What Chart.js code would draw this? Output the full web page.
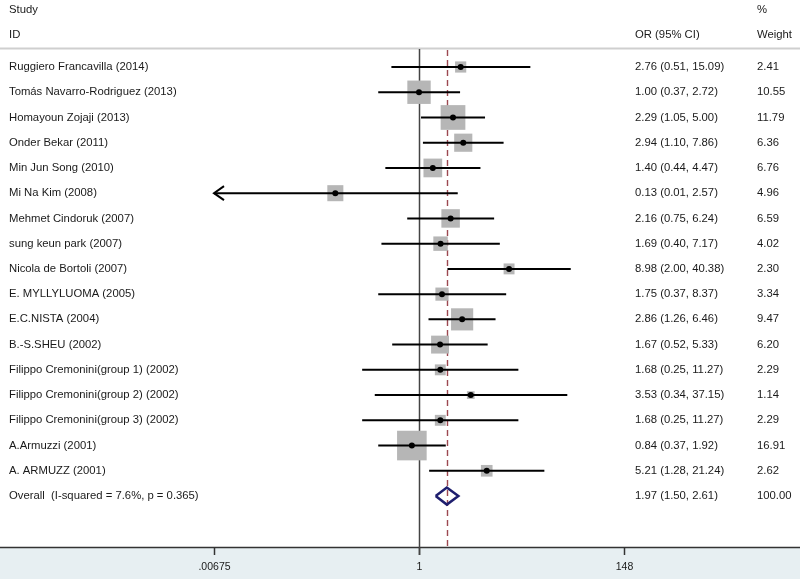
<!DOCTYPE html>
<html>
<head>
<meta charset="utf-8">
<script src="https://cdn.jsdelivr.net/npm/chart.js@4.4.1/dist/chart.umd.min.js"></script>
<style>
  html, body { margin: 0; padding: 0; background: #fff; }
  canvas { display: block; }
</style>
</head>
<body>
<canvas id="forest" width="800" height="579"></canvas>
<script>
// study data
const studies = [
    'Ruggiero Francavilla (2014)',
    'Tomás Navarro-Rodriguez (2013)',
    'Homayoun Zojaji (2013)',
    'Onder Bekar (2011)',
    'Min Jun Song (2010)',
    'Mi Na Kim (2008)',
    'Mehmet Cindoruk (2007)',
    'sung keun park (2007)',
    'Nicola de Bortoli (2007)',
    'E. MYLLYLUOMA (2005)',
    'E.C.NISTA (2004)',
    'B.-S.SHEU (2002)',
    'Filippo Cremonini(group 1) (2002)',
    'Filippo Cremonini(group 2) (2002)',
    'Filippo Cremonini(group 3) (2002)',
    'A.Armuzzi (2001)',
    'A. ARMUZZ (2001)'
];
const oddsRatio = [2.76, 1.00, 2.29, 2.94, 1.40, 0.13, 2.16, 1.69, 8.98, 1.75, 2.86, 1.67, 1.68, 3.53, 1.68, 0.84, 5.21];
const ciLow     = [0.51, 0.37, 1.05, 1.10, 0.44, 0.01, 0.75, 0.40, 2.00, 0.37, 1.26, 0.52, 0.25, 0.34, 0.25, 0.37, 1.28];
const ciHigh    = [15.09, 2.72, 5.00, 7.86, 4.47, 2.57, 6.24, 7.17, 40.38, 8.37, 6.46, 5.33, 11.27, 37.15, 11.27, 1.92, 21.24];
const weights   = [2.41, 10.55, 11.79, 6.36, 6.76, 4.96, 6.59, 4.02, 2.30, 3.34, 9.47, 6.20, 2.29, 1.14, 2.29, 16.91, 2.62];
// rows whose CI runs off the left end of the axis (drawn with an arrow)
const arrowLeft = [5];

const overallLabel = 'Overall  (I-squared = 7.6%, p = 0.365)';
const overallOR = 1.97;
const overallLow = 1.50;
const overallHigh = 2.61;
const overallWeight = 100.00;

const xTicks = [0.00675, 1, 148];
const xTickLabels = ['.00675', '1', '148'];

const FONT = '"Liberation Sans", Arial, sans-serif';
const xMin = xTicks[0];
const xMax = xTicks[xTicks.length - 1];
const overallRow = studies.length;

// CI segments in one dataset, broken by nulls
const ciData = [];
studies.forEach((s, i) => {
    const left = arrowLeft.includes(i) ? xMin : ciLow[i];
    ciData.push({ x: left, y: i }, { x: ciHigh[i], y: i }, { x: null, y: null });
});

const boxData = oddsRatio.map((v, i) => ({ x: v, y: i }));
// square side ~ sqrt(weight), rect pointStyle side = 2 * r * SQRT1_2
const boxRadius = weights.map(w => 7.2 * Math.sqrt(w) / (2 * Math.SQRT1_2));

const dh = 0.34;
const diamondData = [
    { x: overallLow, y: overallRow },
    { x: overallOR, y: overallRow - dh },
    { x: overallHigh, y: overallRow },
    { x: overallOR, y: overallRow + dh },
    { x: overallLow, y: overallRow }
];

const forestDecor = {
    id: 'forestDecor',
    beforeDraw(chart) {
        const ctx = chart.ctx;
        const W = chart.width, H = chart.height;
        ctx.save();
        // bottom band
        ctx.fillStyle = '#e7eff2';
        ctx.fillRect(0, 548, W, H - 548);
        // header separator
        ctx.strokeStyle = '#cfcfcf';
        ctx.lineWidth = 2;
        ctx.beginPath();
        ctx.moveTo(0, 48.5);
        ctx.lineTo(W, 48.5);
        ctx.stroke();

        // text
        ctx.fillStyle = '#1a1a1a';
        ctx.font = '11.3px ' + FONT;
        ctx.textBaseline = 'middle';
        ctx.textAlign = 'left';
        ctx.fillText('Study', 9, 10);
        ctx.fillText('ID', 9, 35);
        ctx.fillText('OR (95% CI)', 635, 35);
        ctx.fillText('%', 757, 10);
        ctx.fillText('Weight', 757, 35);

        const ys = chart.scales.y;
        studies.forEach((s, i) => {
            const y = ys.getPixelForValue(i);
            ctx.fillText(s, 9, y);
            ctx.fillText(oddsRatio[i].toFixed(2) + ' (' + ciLow[i].toFixed(2) + ', ' + ciHigh[i].toFixed(2) + ')', 635, y);
            ctx.fillText(weights[i].toFixed(2), 757, y);
        });
        const yo = ys.getPixelForValue(overallRow);
        ctx.fillText(overallLabel, 9, yo);
        ctx.fillText(overallOR.toFixed(2) + ' (' + overallLow.toFixed(2) + ', ' + overallHigh.toFixed(2) + ')', 635, yo);
        ctx.fillText(overallWeight.toFixed(2), 757, yo);

        // x axis
        const xs = chart.scales.x;
        ctx.strokeStyle = '#333';
        ctx.lineWidth = 1.5;
        ctx.beginPath();
        ctx.moveTo(0, 547.5);
        ctx.lineTo(W, 547.5);
        ctx.stroke();
        ctx.font = '10.5px ' + FONT;
        ctx.textAlign = 'center';
        xTicks.forEach((t, i) => {
            const x = Math.round(xs.getPixelForValue(t)) + 0.5;
            ctx.beginPath();
            ctx.moveTo(x, 547);
            ctx.lineTo(x, 555);
            ctx.stroke();
            ctx.fillText(xTickLabels[i], x, 567);
        });
        ctx.restore();
    },
    beforeDatasetsDraw(chart) {
        const ctx = chart.ctx;
        const xs = chart.scales.x;
        ctx.save();
        // null line at 1
        const x1 = Math.round(xs.getPixelForValue(1)) + 0.5;
        ctx.strokeStyle = '#444';
        ctx.lineWidth = 1.5;
        ctx.beginPath();
        ctx.moveTo(x1, 49);
        ctx.lineTo(x1, 555);
        ctx.stroke();
        // overall effect dashed line
        const xo = Math.round(xs.getPixelForValue(overallOR)) + 0.5;
        ctx.strokeStyle = '#9c4850';
        ctx.lineWidth = 1.4;
        ctx.setLineDash([6, 4]);
        ctx.beginPath();
        ctx.moveTo(xo, 50);
        ctx.lineTo(xo, 546);
        ctx.stroke();
        ctx.restore();
    },
    afterDatasetsDraw(chart) {
        const ctx = chart.ctx;
        const xs = chart.scales.x, ys = chart.scales.y;
        ctx.save();
        ctx.strokeStyle = '#000';
        ctx.lineWidth = 2;
        arrowLeft.forEach(i => {
            const x = xs.getPixelForValue(xMin);
            const y = ys.getPixelForValue(i);
            ctx.beginPath();
            ctx.moveTo(x + 10, y - 7);
            ctx.lineTo(x, y);
            ctx.lineTo(x + 10, y + 7);
            ctx.stroke();
        });
        ctx.restore();
    }
};

new Chart(document.getElementById('forest'), {
    type: 'scatter',
    data: {
        datasets: [
            {
                label: 'boxes',
                data: boxData,
                pointStyle: 'rect',
                pointRadius: boxRadius,
                backgroundColor: '#b6b6b6',
                borderWidth: 0,
                order: 3
            },
            {
                label: 'ci',
                data: ciData,
                showLine: true,
                spanGaps: false,
                borderColor: '#000',
                borderWidth: 2,
                pointRadius: 0,
                order: 2
            },
            {
                label: 'or',
                data: boxData,
                pointStyle: 'circle',
                pointRadius: 3,
                backgroundColor: '#000',
                borderWidth: 0,
                order: 1
            },
            {
                label: 'overall',
                data: diamondData,
                showLine: true,
                borderColor: '#1e1e6e',
                borderWidth: 2.5,
                pointRadius: 0,
                order: 0
            }
        ]
    },
    options: {
        responsive: false,
        animation: false,
        events: [],
        layout: { padding: { left: 214, right: 176, top: 48, bottom: 32 } },
        plugins: { legend: { display: false }, tooltip: { enabled: false } },
        scales: {
            x: { type: 'logarithmic', min: xMin, max: xMax, display: false, bounds: 'data' },
            y: { type: 'linear', min: -0.753, max: 19.02, reverse: true, display: false, bounds: 'data' }
        }
    },
    plugins: [forestDecor]
});
</script>
</body>
</html>
